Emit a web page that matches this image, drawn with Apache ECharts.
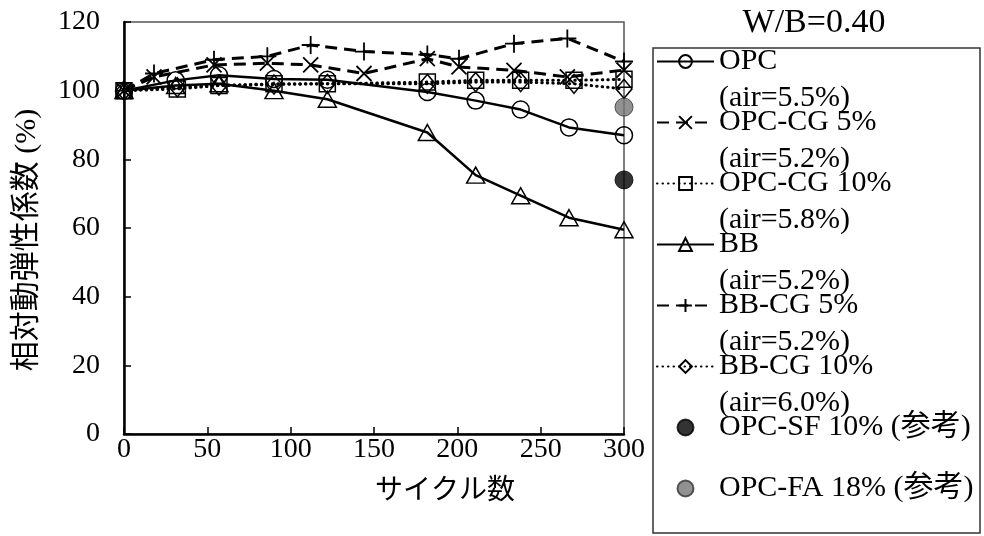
<!DOCTYPE html>
<html>
<head>
<meta charset="utf-8">
<script src="https://cdn.jsdelivr.net/npm/echarts@6/dist/echarts.min.js"></script>
<style>
  html, body { margin: 0; padding: 0; background: #fff; }
  #chart { width: 984px; height: 536px; }
</style>
</head>
<body>
<div id="chart"></div>
<script>
// Freeze-thaw cycles at which each group was measured
const cyclesOpc = [0, 31, 57, 90, 122, 182, 211, 238, 267, 300];
const cyclesCg5 = [0, 18, 54, 86, 112, 144, 182, 201, 234, 266, 300];
const cyclesCg10 = [0, 32, 57, 90, 122, 182, 211, 238, 270, 300];
const cyclesBb = [0, 31, 57, 90, 122, 182, 211, 238, 267, 300];
const cyclesRef = [300];

// Relative dynamic modulus of elasticity (%)
const opc = [100, 103, 104.5, 103.4, 103.2, 99.6, 97.1, 94.5, 89.3, 87];
const opcCg5 = [100, 104, 107.5, 108, 107.5, 105, 109.3, 106.9, 105.9, 104, 106];
const opcCg10 = [100, 100.5, 101.5, 102, 102, 102.5, 103, 103, 103, 103.3];
const bb = [100, 101.5, 102, 100, 97.5, 87.8, 75.4, 69.4, 63, 59.5];
const bbCg5 = [100, 105, 109, 110, 113.3, 111.4, 110.5, 109.3, 113.7, 115.2, 108.5];
const bbCg10 = [100, 101, 101.5, 101.8, 102, 102, 102.5, 102.5, 102, 100.5];
const opcSf = [74];
const opcFa = [95.2];

const seriesNames = ['OPC', 'OPC-CG 5%', 'OPC-CG 10%', 'BB', 'BB-CG 5%', 'BB-CG 10%',
  'OPC-SF 10% (参考)', 'OPC-FA 18% (参考)'];
const airContent = ['5.5%', '5.2%', '5.8%', '5.2%', '5.2%', '6.0%', null, null];

const xTicks = { min: 0, max: 300, step: 50 };
const yTicks = { min: 0, max: 120, step: 20 };

const FONT = "'Liberation Serif', 'Times New Roman', 'Noto Sans CJK JP', serif";
const SYM_CROSS = 'path://M0,0L10,10M10,0L0,10';
const SYM_PLUS = 'path://M5,0L5,10M0,5L10,5';

function pairs(xs, ys) { return xs.map((x, i) => [x, ys[i]]); }

const solid = { color: '#000', width: 2.5, type: 'solid' };
const dashed = { color: '#000', width: 3, type: [12, 7] };
const dotted = { color: '#000', width: 3, type: [0.5, 5], cap: 'round' };
const hollow = { color: 'rgba(255,255,255,0)', borderColor: '#000', borderWidth: 1.5 };
const strokeOnly = { color: 'rgba(255,255,255,0)', borderColor: '#000', borderWidth: 1.8 };

function lineSeries(name, xs, ys, lineStyle, symbol, size, itemStyle) {
  return {
    name, type: 'line', data: pairs(xs, ys),
    symbol, symbolSize: size, showAllSymbol: true,
    lineStyle, itemStyle,
    emphasis: { disabled: true }, animation: false
  };
}

const series = [
  lineSeries(seriesNames[0], cyclesOpc, opc, solid, 'circle', 17, hollow),
  lineSeries(seriesNames[1], cyclesCg5, opcCg5, dashed, SYM_CROSS, 15, strokeOnly),
  lineSeries(seriesNames[2], cyclesCg10, opcCg10, dotted, 'rect', 16, hollow),
  lineSeries(seriesNames[3], cyclesBb, bb, solid, 'triangle', [18, 16], hollow),
  lineSeries(seriesNames[4], cyclesCg5, bbCg5, dashed, SYM_PLUS, 18, strokeOnly),
  lineSeries(seriesNames[5], cyclesCg10, bbCg10, dotted, 'diamond', [16, 19], hollow),
  {
    name: seriesNames[6], type: 'scatter', data: pairs(cyclesRef, opcSf),
    symbol: 'circle', symbolSize: 18,
    itemStyle: { color: '#000', borderColor: '#000', borderWidth: 1 },
    emphasis: { disabled: true }, animation: false, z: 5
  },
  {
    name: seriesNames[7], type: 'scatter', data: pairs(cyclesRef, opcFa),
    symbol: 'circle', symbolSize: 18,
    itemStyle: { color: '#767676', borderColor: '#333', borderWidth: 1 },
    emphasis: { disabled: true }, animation: false, z: 5
  }
];

const chart = echarts.init(document.getElementById('chart'), null, { renderer: 'canvas' });

chart.setOption({
  backgroundColor: '#fff',
  animation: false,
  grid: {
    left: 124, right: 360, top: 22, bottom: 102,
    show: true, borderColor: '#555', borderWidth: 1.5,
    outerBoundsMode: 'none'
  },
  xAxis: {
    type: 'value', min: xTicks.min, max: xTicks.max, interval: xTicks.step,
    axisLine: { show: true, onZero: false, lineStyle: { color: '#000', width: 2.5 } },
    axisTick: { show: true, inside: true, length: 7, lineStyle: { color: '#000', width: 1.5 } },
    axisLabel: { margin: 2, color: '#000', fontFamily: FONT, fontSize: 28 },
    splitLine: { show: false }
  },
  yAxis: {
    type: 'value', min: yTicks.min, max: yTicks.max, interval: yTicks.step,
    axisLine: { show: true, onZero: false, lineStyle: { color: '#000', width: 2.5 } },
    axisTick: { show: true, inside: true, length: 7, lineStyle: { color: '#000', width: 1.5 } },
    axisLabel: { margin: 24, color: '#000', fontFamily: FONT, fontSize: 28 },
    splitLine: { show: false }
  },
  legend: {
    orient: 'vertical', left: 656, top: 6, height: 700, padding: 0,
    itemWidth: 57, itemHeight: 16, itemGap: -50,
    selectedMode: false,
    data: seriesNames,
    // three text rows per entry: a blank row above, the name level with the icon,
    // and the air content below
    formatter: function (name) {
      const air = airContent[seriesNames.indexOf(name)];
      return '\u00a0\n' + name + '\n' + (air ? '(air=' + air + ')' : '\u00a0');
    },
    textStyle: {
      color: '#000', fontFamily: FONT, fontSize: 30,
      lineHeight: 37, backgroundColor: 'rgba(255,255,255,0)'
    }
  },
  graphic: [
    {
      type: 'rect', silent: true,
      shape: { x: 653, y: 48, width: 327, height: 485 },
      style: { fill: 'none', stroke: '#333', lineWidth: 1.5 }
    },
    {
      type: 'text', silent: true, x: 814, y: 23,
      style: { text: 'W/B=0.40', fill: '#000', font: '34px ' + FONT, align: 'center', verticalAlign: 'middle' }
    },
    {
      type: 'text', silent: true, x: 27, y: 240, rotation: Math.PI / 2,
      style: { text: '相対動弾性係数 (%)', fill: '#000', font: '30px ' + FONT, align: 'center', verticalAlign: 'middle' }
    },
    {
      type: 'text', silent: true, x: 445, y: 492,
      style: { text: 'サイクル数', fill: '#000', font: '28px ' + FONT, align: 'center', verticalAlign: 'middle' }
    }
  ],
  series
});
</script>
</body>
</html>
